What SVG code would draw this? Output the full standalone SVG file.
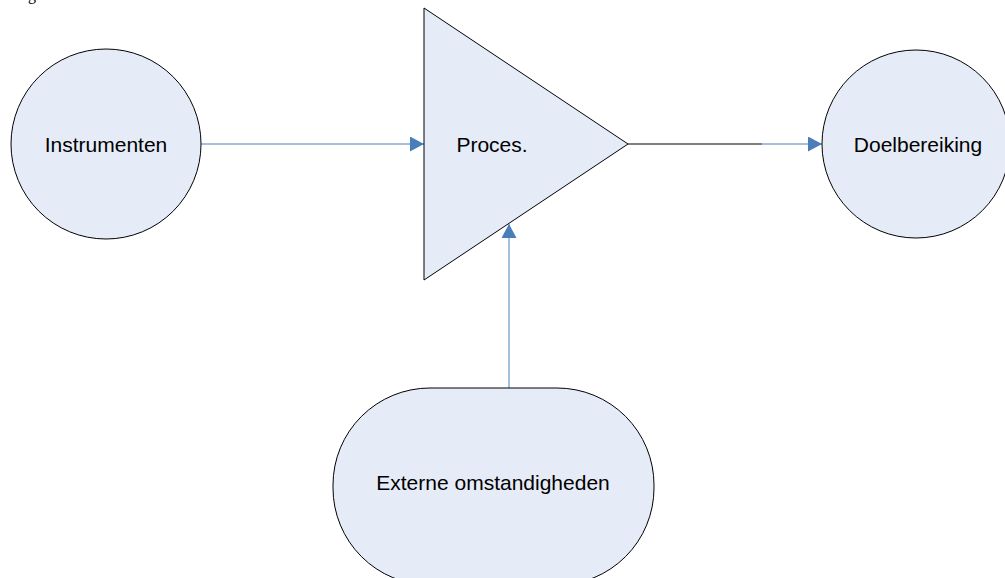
<svg xmlns="http://www.w3.org/2000/svg" width="1005" height="578" viewBox="0 0 1005 578">
<style>
.node{fill:#E6ECF7;stroke:#000;stroke-width:1}
.lbl{font-family:"Liberation Sans",Arial,sans-serif;font-size:21px;fill:#000;text-anchor:middle;dominant-baseline:central}
.con{stroke:#4A7EBB;stroke-width:1;fill:none}
.blk{stroke:#000;stroke-width:1.2;fill:none}
</style>
<defs>
<marker id="arr" markerWidth="14" markerHeight="15" refX="14" refY="7.5" orient="auto" markerUnits="userSpaceOnUse">
<path d="M0,0 L14,7.5 L0,15 Z" fill="#4A7EBB"/>
</marker>
</defs>
<rect width="1005" height="578" fill="#fff"/>
<text x="28" y="0" font-family="Liberation Serif,serif" font-size="16" fill="#000">g</text>
<g id="connectors">
<line class="con" x1="201" y1="144" x2="424" y2="144" marker-end="url(#arr)"/>
<line class="blk" x1="628" y1="144" x2="762" y2="144"/>
<line class="con" x1="762" y1="144" x2="822" y2="144" marker-end="url(#arr)"/>
<line class="con" x1="509" y1="388" x2="509" y2="224" marker-end="url(#arr)"/>
</g>
<g id="instrumenten">
<circle class="node" cx="106" cy="144" r="95"/>
<text class="lbl" x="106" y="144">Instrumenten</text>
</g>
<g id="proces">
<polygon class="node" points="424,8 628,144 424,280"/>
<text class="lbl" x="492" y="144">Proces.</text>
</g>
<g id="doelbereiking">
<circle class="node" cx="916" cy="144" r="94"/>
<text class="lbl" x="918" y="144">Doelbereiking</text>
</g>
<g id="externe">
<rect class="node" x="333" y="388" width="321" height="197" rx="97" ry="97"/>
<text class="lbl" x="493" y="482">Externe omstandigheden</text>
</g>
</svg>
